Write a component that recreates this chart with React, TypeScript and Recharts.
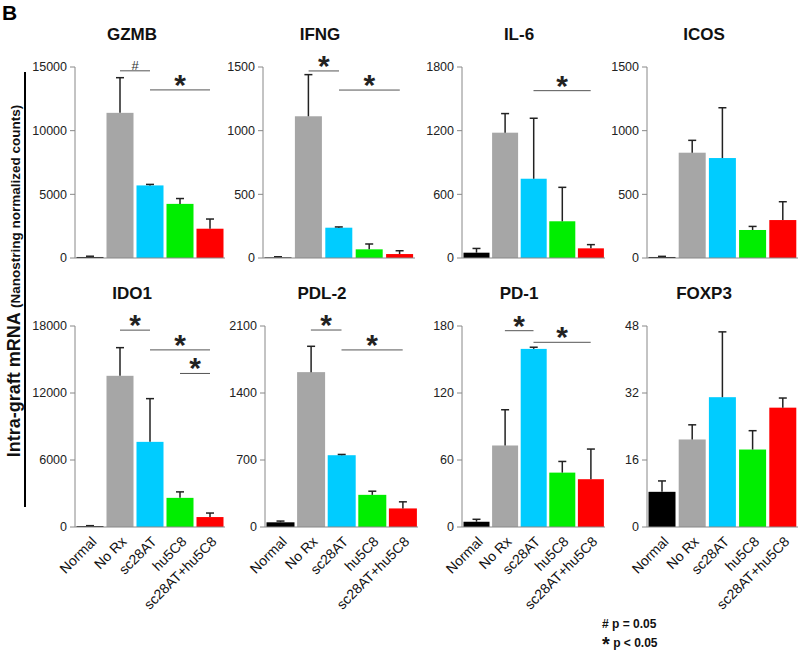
import React from "react";
import { BarChart, Bar, XAxis, YAxis, Cell, ReferenceLine } from "recharts";

const categories = ["Normal", "No Rx", "sc28AT", "hu5C8", "sc28AT+hu5C8"];
const barColors = ["#000000", "#a6a6a6", "#00ccff", "#00ee00", "#ff0000"];

// mean and upper error per group
const gzmbMean = [80, 11400, 5700, 4250, 2300];
const gzmbErr = [60, 2760, 80, 420, 760];
const ifngMean = [5, 1113, 238, 68, 31];
const ifngErr = [5, 327, 6, 42, 26];
const il6Mean = [50, 1181, 747, 346, 91];
const il6Err = [40, 180, 570, 320, 35];
const icosMean = [8, 827, 785, 220, 298];
const icosErr = [5, 97, 395, 28, 144];
const ido1Mean = [80, 13540, 7625, 2610, 890];
const ido1Err = [40, 2520, 3870, 535, 360];
const pdl2Mean = [49, 1618, 750, 336, 194];
const pdl2Err = [13, 270, 8, 38, 69];
const pd1Mean = [4.7, 73, 159.5, 48.7, 42.8];
const pd1Err = [2.2, 32, 1.5, 10, 27];
const foxp3Mean = [8.4, 20.9, 31, 18.5, 28.5];
const foxp3Err = [2.6, 3.5, 15.6, 4.5, 2.3];

const gzmbTicks = [0, 5000, 10000, 15000];
const ifngTicks = [0, 500, 1000, 1500];
const il6Ticks = [0, 600, 1200, 1800];
const icosTicks = [0, 500, 1000, 1500];
const ido1Ticks = [0, 6000, 12000, 18000];
const pdl2Ticks = [0, 700, 1400, 2100];
const pd1Ticks = [0, 60, 120, 180];
const foxp3Ticks = [0, 16, 32, 48];

type Sig = { from: string; to: string; y: number; mark: string };

const gzmbSig: Sig[] = [
  { from: "No Rx", to: "sc28AT", y: 14700, mark: "#" },
  { from: "sc28AT", to: "sc28AT+hu5C8", y: 13200, mark: "*" },
];
const ifngSig: Sig[] = [
  { from: "No Rx", to: "sc28AT", y: 1469, mark: "*" },
  { from: "sc28AT", to: "sc28AT+hu5C8", y: 1319, mark: "*" },
];
const il6Sig: Sig[] = [{ from: "sc28AT", to: "sc28AT+hu5C8", y: 1577, mark: "*" }];
const ido1Sig: Sig[] = [
  { from: "No Rx", to: "sc28AT", y: 17630, mark: "*" },
  { from: "sc28AT", to: "sc28AT+hu5C8", y: 15860, mark: "*" },
  { from: "hu5C8", to: "sc28AT+hu5C8", y: 13750, mark: "*" },
];
const pdl2Sig: Sig[] = [
  { from: "No Rx", to: "sc28AT", y: 2058, mark: "*" },
  { from: "sc28AT", to: "sc28AT+hu5C8", y: 1850, mark: "*" },
];
const pd1Sig: Sig[] = [
  { from: "No Rx", to: "sc28AT", y: 175.8, mark: "*" },
  { from: "sc28AT", to: "sc28AT+hu5C8", y: 165.4, mark: "*" },
];

const buildRows = (mean: number[], err: number[]) =>
  categories.map((name, i) => ({ name, mean: mean[i], err: err[i] }));

// bar plus an upper-only error whisker, scaled from the bar's own geometry
function BarWithError(props: any) {
  const { x, y, width, height, fill, payload } = props;
  const k = payload.mean > 0 ? height / payload.mean : 0;
  const top = y - payload.err * k;
  const cx = x + width / 2;
  return (
    <g>
      <rect x={x} y={y} width={width} height={height} fill={fill} />
      <line x1={cx} x2={cx} y1={y} y2={top} stroke="#222" strokeWidth={1.5} />
      <line x1={cx - 4} x2={cx + 4} y1={top} y2={top} stroke="#222" strokeWidth={1.5} />
    </g>
  );
}

function CategoryTick({ x, y, payload }: any) {
  return (
    <g transform={`translate(${x + 4},${y + 10})`}>
      <text transform="rotate(-45)" textAnchor="end" dy="0.35em" fontSize={14} fill="#111">
        {payload.value}
      </text>
    </g>
  );
}

interface PanelProps {
  title: string;
  mean: number[];
  err: number[];
  ticks: number[];
  sig: Sig[];
  axisX: number;
  plotW: number;
  plotTop: number;
  plotH: number;
  showLabels: boolean;
}

function GenePanel({ title, mean, err, ticks, sig, axisX, plotW, plotTop, plotH, showLabels }: PanelProps) {
  const data = buildRows(mean, err);
  const yAxisW = 52;
  const mTop = 30;
  const xAxisH = showLabels ? 95 : 12;
  const h = mTop + plotH + xAxisH;
  const w = yAxisW + plotW + 4;

  return (
    <>
      <div
        style={{
          position: "absolute",
          left: axisX + 57 - 60,
          width: 120,
          top: plotTop - 42,
          textAlign: "center",
          fontSize: 17,
          fontWeight: "bold",
          color: "#111",
        }}
      >
        {title}
      </div>
      <div style={{ position: "absolute", left: axisX - yAxisW, top: plotTop - mTop }}>
        <BarChart
          width={w}
          height={h}
          data={data}
          margin={{ top: mTop, right: 4, left: 0, bottom: 0 }}
          barCategoryGap={1.5}
        >
          <XAxis
            dataKey="name"
            interval={0}
            height={xAxisH}
            tickLine={false}
            tickSize={0}
            axisLine={{ stroke: "#888" }}
            tick={showLabels ? <CategoryTick /> : false}
          />
          <YAxis
            width={yAxisW}
            domain={[0, ticks[ticks.length - 1]]}
            ticks={ticks}
            allowDataOverflow
            interval={0}
            tickSize={5}
            tickMargin={3}
            axisLine={{ stroke: "#888" }}
            tickLine={{ stroke: "#888" }}
            tick={{ fontSize: 12.5, fill: "#222" }}
          />
          <Bar dataKey="mean" shape={<BarWithError />} isAnimationActive={false}>
            {data.map((d, i) => (
              <Cell key={d.name} fill={barColors[i]} />
            ))}
          </Bar>
          {sig.map((s) => (
            <ReferenceLine
              key={`${s.from}-${s.to}`}
              segment={[
                { x: s.from, y: s.y },
                { x: s.to, y: s.y },
              ]}
              stroke="#555"
              strokeWidth={1}
              ifOverflow="visible"
              label={
                s.mark === "#"
                  ? { value: "#", position: "top", offset: 1, fontSize: 13, fill: "#333" }
                  : { value: "*", position: "top", offset: -5, fontSize: 30, fontWeight: "bold", fill: "#222" }
              }
            />
          ))}
        </BarChart>
      </div>
    </>
  );
}

export default function App() {
  const topY = 67;
  const topH = 191;
  const botY = 326;
  const botH = 201;

  return (
    <div
      style={{
        position: "absolute",
        left: 0,
        top: 0,
        width: 800,
        height: 655,
        background: "#fff",
        fontFamily: "'Liberation Sans', Arial, sans-serif",
        overflow: "hidden",
      }}
    >
      <div style={{ position: "absolute", left: 2, top: 1, fontSize: 21, fontWeight: "bold", lineHeight: "normal" }}>
        B
      </div>

      <GenePanel title="GZMB" mean={gzmbMean} err={gzmbErr} ticks={gzmbTicks} sig={gzmbSig}
        axisX={75} plotW={150} plotTop={topY} plotH={topH} showLabels={false} />
      <GenePanel title="IFNG" mean={ifngMean} err={ifngErr} ticks={ifngTicks} sig={ifngSig}
        axisX={263} plotW={152} plotTop={topY} plotH={topH} showLabels={false} />
      <GenePanel title="IL-6" mean={il6Mean} err={il6Err} ticks={il6Ticks} sig={il6Sig}
        axisX={462} plotW={143} plotTop={topY} plotH={topH} showLabels={false} />
      <GenePanel title="ICOS" mean={icosMean} err={icosErr} ticks={icosTicks} sig={[]}
        axisX={647} plotW={151} plotTop={topY} plotH={topH} showLabels={false} />

      <GenePanel title="IDO1" mean={ido1Mean} err={ido1Err} ticks={ido1Ticks} sig={ido1Sig}
        axisX={75} plotW={150} plotTop={botY} plotH={botH} showLabels />
      <GenePanel title="PDL-2" mean={pdl2Mean} err={pdl2Err} ticks={pdl2Ticks} sig={pdl2Sig}
        axisX={265} plotW={153} plotTop={botY} plotH={botH} showLabels />
      <GenePanel title="PD-1" mean={pd1Mean} err={pd1Err} ticks={pd1Ticks} sig={pd1Sig}
        axisX={462} plotW={143} plotTop={botY} plotH={botH} showLabels />
      <GenePanel title="FOXP3" mean={foxp3Mean} err={foxp3Err} ticks={foxp3Ticks} sig={[]}
        axisX={647} plotW={151} plotTop={botY} plotH={botH} showLabels />

      <svg width={800} height={655} style={{ position: "absolute", left: 0, top: 0, pointerEvents: "none" }}>
        <line x1={25} x2={25} y1={72} y2={507} stroke="#000" strokeWidth={2} />
        <text transform="rotate(-90)" x={-281} y={20} textAnchor="middle" fill="#111" fontWeight="bold">
          <tspan fontSize={18}>Intra-graft mRNA </tspan>
          <tspan fontSize={13.5}>(Nanostring normalized counts)</tspan>
        </text>
        <text x={602} y={628} fontSize={12} fontWeight="bold" fill="#111">
          # p = 0.05
        </text>
        <text x={602} y={647} fontSize={12} fontWeight="bold" fill="#111">
          <tspan fontSize={20} dy={4}>*</tspan>
          <tspan dy={-4}> p &lt; 0.05</tspan>
        </text>
      </svg>
    </div>
  );
}
